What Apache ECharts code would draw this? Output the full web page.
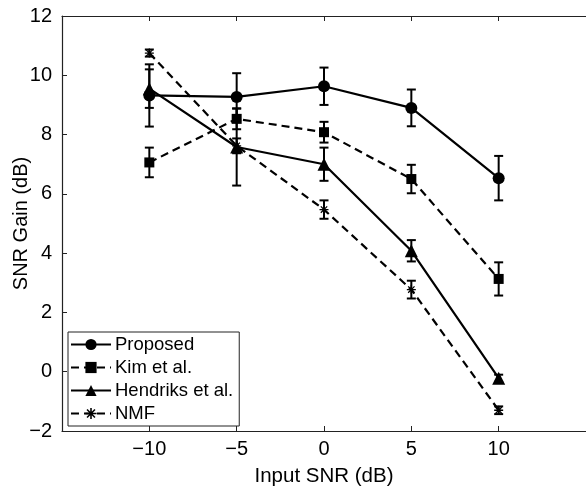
<!DOCTYPE html>
<html>
<head>
<meta charset="utf-8">
<script src="https://cdn.jsdelivr.net/npm/echarts@6/dist/echarts.min.js"></script>
<style>
  html, body { margin: 0; padding: 0; background: #fff; }
  #chart { width: 586px; height: 487px; }
</style>
</head>
<body>
<div id="chart"></div>
<script>
// data
var inputSnr = [-10, -5, 0, 5, 10];
var xTicks = [-10, -5, 0, 5, 10];

var proposed = [9.32, 9.27, 9.63, 8.9, 6.53];
var proposedErr = [1.05, 0.8, 0.63, 0.62, 0.75];

var kim = [7.06, 8.53, 8.08, 6.5, 3.13];
var kimErr = [0.5, 0.35, 0.35, 0.48, 0.56];

var hendriks = [9.55, 7.58, 7.0, 4.08, -0.22];
var hendriksErr = [0.65, 1.3, 0.56, 0.36, 0.12];

var nmf = [10.75, 7.62, 5.47, 2.77, -1.3];
var nmfErr = [0.12, 0.25, 0.31, 0.3, 0.13];

var FONT = '"Liberation Sans", Arial, sans-serif';
var star = 'path://M-5,-0.7L5,-0.7L5,0.7L-5,0.7Z' +
  'M-0.7,-5L0.7,-5L0.7,5L-0.7,5Z' +
  'M-3.05,-4.03L4.03,3.05L3.05,4.03L-4.03,-3.05Z' +
  'M4.03,-3.05L-3.05,4.03L-4.03,3.05L3.05,-4.03Z';

function minus(v) {
  return String(v).replace('-', '\u2212');
}

function pairs(vals) {
  return inputSnr.map(function (x, i) { return [x, vals[i]]; });
}

function lineSeries(name, vals, symbol, size, dashed) {
  return {
    name: name,
    type: 'line',
    data: pairs(vals),
    symbol: symbol,
    symbolSize: size,
    showAllSymbol: true,
    itemStyle: { color: '#000' },
    lineStyle: { color: '#000', width: 2.2, type: dashed ? [8, 5] : 'solid' },
    z: 5
  };
}

function errSeries(name, vals, errs) {
  return {
    name: name + ' err',
    type: 'custom',
    data: inputSnr.map(function (x, i) { return [x, vals[i], errs[i]]; }),
    renderItem: function (params, api) {
      var x = api.value(0), y = api.value(1), e = api.value(2);
      var top = api.coord([x, y + e]);
      var bot = api.coord([x, y - e]);
      var w = 4.5;
      var st = { stroke: '#000', lineWidth: 2 };
      return {
        type: 'group',
        children: [
          { type: 'line', shape: { x1: top[0], y1: top[1], x2: bot[0], y2: bot[1] }, style: st },
          { type: 'line', shape: { x1: top[0] - w, y1: top[1], x2: top[0] + w, y2: top[1] }, style: st },
          { type: 'line', shape: { x1: bot[0] - w, y1: bot[1], x2: bot[0] + w, y2: bot[1] }, style: st }
        ]
      };
    },
    z: 3
  };
}

var chart = echarts.init(document.getElementById('chart'));

var axisLine = { onZero: false, lineStyle: { color: '#222', width: 1.2 } };

var option = {
  animation: false,
  backgroundColor: '#fff',
  textStyle: { fontFamily: FONT, color: '#000' },
  grid: { left: 62, right: 0, top: 16, bottom: 56, outerBoundsMode: 'none' },
  legend: {
    data: ['Proposed', 'Kim et al.', 'Hendriks et al.', 'NMF'],
    orient: 'vertical',
    left: 68,
    top: 332,
    itemWidth: 40,
    itemHeight: 14,
    itemGap: 4,
    padding: [3, 6, 3, 2],
    backgroundColor: '#fff',
    borderColor: '#222',
    borderWidth: 1,
    borderRadius: 0,
    textStyle: { fontFamily: FONT, fontSize: 18.5, color: '#000', padding: [0, 0, 0, -1] },
    z: 10
  },
  xAxis: [{
    type: 'value',
    min: -15,
    max: 15,
    interval: 5,
    name: 'Input SNR (dB)',
    nameLocation: 'middle',
    nameGap: 35,
    nameMoveOverlap: false,
    nameTextStyle: { fontFamily: FONT, fontSize: 20.5, color: '#000' },
    axisLine: axisLine,
    axisTick: { inside: true, length: 5, customValues: xTicks, lineStyle: { color: '#222' } },
    axisLabel: { customValues: xTicks, fontFamily: FONT, fontSize: 20, color: '#000', margin: 8, formatter: minus },
    splitLine: { show: false }
  }, {
    type: 'value',
    position: 'top',
    min: -15,
    max: 15,
    interval: 5,
    axisLine: axisLine,
    axisTick: { inside: true, length: 5, customValues: xTicks, lineStyle: { color: '#222' } },
    axisLabel: { show: false },
    splitLine: { show: false }
  }],
  yAxis: {
    type: 'value',
    min: -2,
    max: 12,
    interval: 2,
    name: 'SNR Gain (dB)',
    nameLocation: 'middle',
    nameGap: 31,
    nameMoveOverlap: false,
    nameTextStyle: { fontFamily: FONT, fontSize: 20, color: '#000' },
    axisLine: { show: true, onZero: false, lineStyle: { color: '#222', width: 1.2 } },
    axisTick: { show: true, inside: true, length: 5, lineStyle: { color: '#222' } },
    axisLabel: { fontFamily: FONT, fontSize: 20, color: '#000', margin: 10, formatter: minus },
    splitLine: { show: false }
  },
  series: [
    errSeries('Proposed', proposed, proposedErr),
    errSeries('Kim et al.', kim, kimErr),
    errSeries('Hendriks et al.', hendriks, hendriksErr),
    errSeries('NMF', nmf, nmfErr),
    lineSeries('Proposed', proposed, 'circle', 12, false),
    lineSeries('Kim et al.', kim, 'rect', 10, true),
    lineSeries('Hendriks et al.', hendriks, 'triangle', 13, false),
    lineSeries('NMF', nmf, star, 9, true)
  ]
};

chart.setOption(option);
</script>
</body>
</html>
